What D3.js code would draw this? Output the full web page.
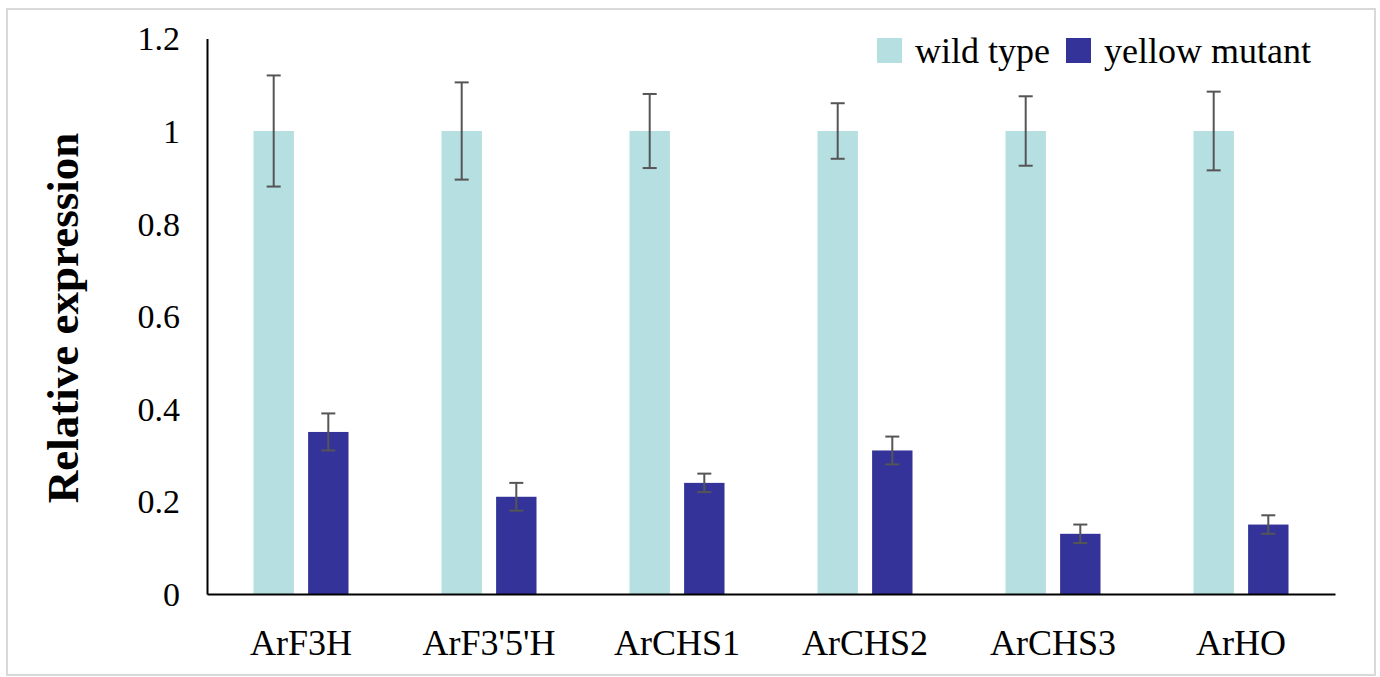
<!DOCTYPE html>
<html>
<head>
<meta charset="utf-8">
<script src="https://cdn.jsdelivr.net/npm/d3@7"></script>
<style>
  body { margin: 0; background: #fff; }
</style>
</head>
<body>
<div id="vis"></div>
<script>
const FRAME_WIDTH = 1380;
const FRAME_HEIGHT = 677;
const MARGINS = {left: 207, right: 45, top: 38.4, bottom: 83};
const FONT = "'Liberation Serif', 'Times New Roman', serif";

// data
const genes = ["ArF3H", "ArF3'5'H", "ArCHS1", "ArCHS2", "ArCHS3", "ArHO"];
const seriesNames = ["wild type", "yellow mutant"];
const wildType = [1, 1, 1, 1, 1, 1];
const wildErr = [0.12, 0.105, 0.08, 0.06, 0.075, 0.085];
const mutant = [0.35, 0.21, 0.24, 0.31, 0.13, 0.15];
const mutantErr = [0.04, 0.03, 0.02, 0.03, 0.02, 0.02];
const yTicks = [0, 0.2, 0.4, 0.6, 0.8, 1, 1.2];

const COLORS = ["#b6dfe2", "#343399"];

const FRAME = d3.select("#vis")
  .append("svg")
  .attr("width", FRAME_WIDTH)
  .attr("height", FRAME_HEIGHT)
  .style("font-family", FONT);

// light outer border
FRAME.append("rect")
  .attr("x", 7).attr("y", 9)
  .attr("width", 1368).attr("height", 666)
  .attr("fill", "none")
  .attr("stroke", "#d9d9d9")
  .attr("stroke-width", 2);

const X_SCALE = d3.scaleBand()
  .domain(genes)
  .range([MARGINS.left, FRAME_WIDTH - MARGINS.right]);

const SUB_SCALE = d3.scaleBand()
  .domain(seriesNames)
  .range([X_SCALE.bandwidth() / 2 - 47.5, X_SCALE.bandwidth() / 2 + 47.5])
  .paddingInner(0.26);

const Y_SCALE = d3.scaleLinear()
  .domain([0, 1.2])
  .range([FRAME_HEIGHT - MARGINS.bottom, MARGINS.top]);

const rows = [];
genes.forEach((g, i) => {
  rows.push({gene: g, series: seriesNames[0], value: wildType[i], err: wildErr[i], c: 0});
  rows.push({gene: g, series: seriesNames[1], value: mutant[i], err: mutantErr[i], c: 1});
});

// bars
FRAME.selectAll(".bar")
  .data(rows)
  .enter()
  .append("rect")
    .attr("class", "bar")
    .attr("x", d => X_SCALE(d.gene) + SUB_SCALE(d.series))
    .attr("y", d => Y_SCALE(d.value))
    .attr("width", SUB_SCALE.bandwidth())
    .attr("height", d => Y_SCALE(0) - Y_SCALE(d.value))
    .attr("fill", d => COLORS[d.c]);

// error bars
const errG = FRAME.selectAll(".err")
  .data(rows)
  .enter()
  .append("g")
    .attr("class", "err")
    .attr("stroke", "#555")
    .attr("stroke-width", 2);

const cx = d => X_SCALE(d.gene) + SUB_SCALE(d.series) + SUB_SCALE.bandwidth() / 2;

errG.append("line")
  .attr("x1", cx).attr("x2", cx)
  .attr("y1", d => Y_SCALE(d.value + d.err))
  .attr("y2", d => Y_SCALE(d.value - d.err));
errG.append("line")
  .attr("x1", d => cx(d) - 7).attr("x2", d => cx(d) + 7)
  .attr("y1", d => Y_SCALE(d.value + d.err))
  .attr("y2", d => Y_SCALE(d.value + d.err));
errG.append("line")
  .attr("x1", d => cx(d) - 7).attr("x2", d => cx(d) + 7)
  .attr("y1", d => Y_SCALE(d.value - d.err))
  .attr("y2", d => Y_SCALE(d.value - d.err));

// y axis
const yAxis = FRAME.append("g")
  .attr("transform", "translate(" + MARGINS.left + ",0)")
  .call(d3.axisLeft(Y_SCALE).tickValues(yTicks).tickSize(0).tickPadding(27)
    .tickFormat(d => d3.format("")(+d.toFixed(1))));
yAxis.attr("font-family", null);
yAxis.select(".domain").attr("stroke", "#000").attr("stroke-width", 2);
yAxis.selectAll("text")
  .attr("font-size", 34)
  .attr("dy", "0.34em")
  .attr("fill", "#000")
  .style("font-family", FONT);

// x axis
const xAxis = FRAME.append("g")
  .attr("transform", "translate(0," + Y_SCALE(0) + ")")
  .call(d3.axisBottom(X_SCALE).tickSize(0).tickPadding(35));
xAxis.attr("font-family", null);
xAxis.select(".domain").attr("stroke", "#000").attr("stroke-width", 2);
xAxis.selectAll("text")
  .attr("font-size", 36)
  .attr("fill", "#000")
  .style("font-family", FONT);

// axis title
FRAME.append("text")
  .attr("transform", "translate(78,318) rotate(-90)")
  .attr("text-anchor", "middle")
  .attr("font-size", 45)
  .attr("font-weight", "bold")
  .style("font-family", FONT)
  .text("Relative expression");

// legend
const legendX = [877, 1066];
const legend = FRAME.selectAll(".legend")
  .data(seriesNames)
  .enter()
  .append("g")
    .attr("class", "legend")
    .attr("transform", (d, i) => "translate(" + legendX[i] + ",38)");
legend.append("rect")
  .attr("width", 25).attr("height", 25)
  .attr("fill", (d, i) => COLORS[i]);
legend.append("text")
  .attr("x", 38).attr("y", 25)
  .attr("font-size", 36)
  .style("font-family", FONT)
  .text(d => d);
</script>
</body>
</html>
